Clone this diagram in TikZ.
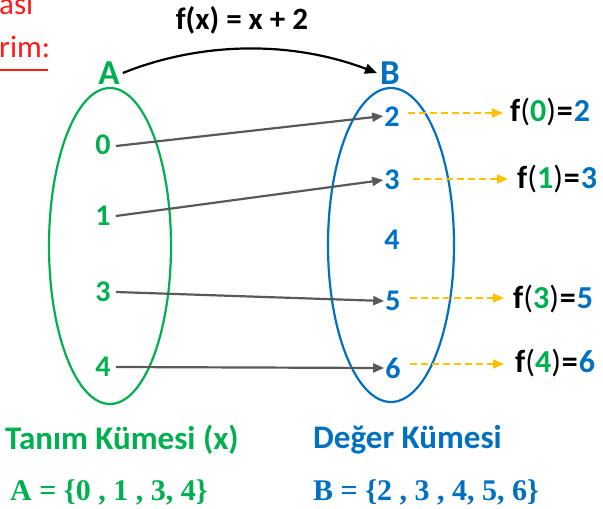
\documentclass[tikz,border=0pt]{standalone}
\usepackage{fontspec}
\setmainfont{Carlito}
\newfontfamily\serifb{Liberation Serif}
\usetikzlibrary{arrows.meta}
\definecolor{grn}{HTML}{00B050}
\definecolor{blu}{HTML}{0070C0}
\definecolor{redc}{HTML}{FF1A1A}
\definecolor{org}{HTML}{FFC000}
\definecolor{gry}{HTML}{595959}
\tikzset{
  num/.style={font=\bfseries\fontsize{30}{32}\selectfont, inner sep=1pt},
  gnum/.style={num, text=grn},
  bnum/.style={num, text=blu},
  maparrow/.style={draw=gry, line width=2.2pt, -{Triangle[length=11pt,width=9pt]}},
  dasharrow/.style={draw=org, line width=1.6pt, dash pattern=on 7pt off 4pt, -{Triangle[length=11pt,width=9pt]}},
  flabel/.style={font=\bfseries\fontsize{32}{34}\selectfont, anchor=west, inner sep=0pt},
  setbox/.style={line width=2.2pt},
  setlist/.style={anchor=west, font=\serifb\bfseries\fontsize{30}{32}\selectfont, inner sep=0pt},
  caption/.style={anchor=west, font=\bfseries\fontsize{33}{36}\selectfont, inner sep=0pt}
}
\newcommand{\feq}{\kern1pt=\kern1pt}
\begin{document}
\begin{tikzpicture}[x=1pt,y=-1pt]
\useasboundingbox (0,0) rectangle (603,509);
\clip (0,0) rectangle (603,509);
% red clipped heading
\node[anchor=base west, text=redc, font=\fontsize{31}{32}\selectfont, inner sep=0pt] (h1) at (-1,14) {asi};
\node[anchor=base west, text=redc, font=\fontsize{31}{32}\selectfont, inner sep=0pt] (h2) at (-1,57) {rim:};
\draw[redc, line width=1.5pt] (0,70) -- (48,70);
% function label
\node[font=\bfseries\fontsize{31}{34}\selectfont] (fx) at (242,20) {f(x) = x + 2};
% sets
\draw[grn, setbox] (110,246) ellipse (61 and 158);
\draw[blu, setbox] (391,245) ellipse (63 and 157);
\node[gnum, font=\bfseries\fontsize{35}{36}\selectfont] (A) at (109,73) {A};
\node[bnum, font=\bfseries\fontsize{35}{36}\selectfont] (B) at (390,73) {B};
\draw[line width=2.2pt, -{Triangle[length=12pt,width=10pt]}] ([xshift=2pt]A.east) .. controls (200,42) and (290,40) .. ([xshift=-2pt]B.west);
% elements
\node[gnum] (a0) at (103,145) {0};
\node[gnum] (a1) at (103,216) {1};
\node[gnum] (a3) at (103,292) {3};
\node[gnum] (a4) at (103,367) {4};
\node[bnum] (b2) at (392,117) {2};
\node[bnum] (b3) at (392,180) {3};
\node[bnum] (b4) at (392,240) {4};
\node[bnum] (b5) at (393,301) {5};
\node[bnum] (b6) at (393,368) {6};
\coordinate (s0) at ([xshift=4pt,yshift=-1pt]a0.east);
\coordinate (s1) at ([xshift=4pt]a1.east);
\coordinate (s3) at ([xshift=4pt]a3.east);
\coordinate (s4) at ([xshift=4pt]a4.east);
\draw[maparrow] (s0) -- ([yshift=1pt]b2.west);
\draw[maparrow] (s1) -- (b3.west);
\draw[maparrow] (s3) -- (b5.west);
\draw[maparrow] (s4) -- (b6.west);
% images
\node[flabel] (f0) at (510,112) {f\textmd{(}\textcolor{grn}{0}\textmd{)}\feq\textcolor{blu}{2}};
\node[flabel] (f1) at (517,179) {f\textmd{(}\textcolor{grn}{1}\textmd{)}\feq\textcolor{blu}{3}};
\node[flabel] (f3) at (513,299) {f\textmd{(}\textcolor{grn}{3}\textmd{)}\feq\textcolor{blu}{5}};
\node[flabel] (f4) at (515,363) {f\textmd{(}\textcolor{grn}{4}\textmd{)}\feq\textcolor{blu}{6}};
\coordinate (d0) at (408,113);
\coordinate (d1) at (413,179);
\coordinate (d3) at (410,298);
\coordinate (d4) at (410,364);
\coordinate (e0) at (d0 -| f0.west);
\coordinate (e1) at (d1 -| f1.west);
\coordinate (e3) at (d3 -| f3.west);
\coordinate (e4) at (d4 -| f4.west);
\draw[dasharrow] (d0) -- ([xshift=-7pt]e0);
\draw[dasharrow] (d1) -- ([xshift=-9pt]e1);
\draw[dasharrow] (d3) -- ([xshift=-9pt]e3);
\draw[dasharrow] (d4) -- ([xshift=-11pt]e4);
% captions
\node[caption, text=grn] (tk) at (5,440) {Tanım Kümesi (x)};
\node[caption, text=blu] (dk) at (313,440) {Değer Kümesi};
\node[setlist, text=grn] (sa) at (10,492) {A = \{0 , 1 , 3, 4\}};
\node[setlist, text=blu] (sb) at (313,492) {B = \{2 , 3 , 4, 5, 6\}};
\end{tikzpicture}
\end{document}
